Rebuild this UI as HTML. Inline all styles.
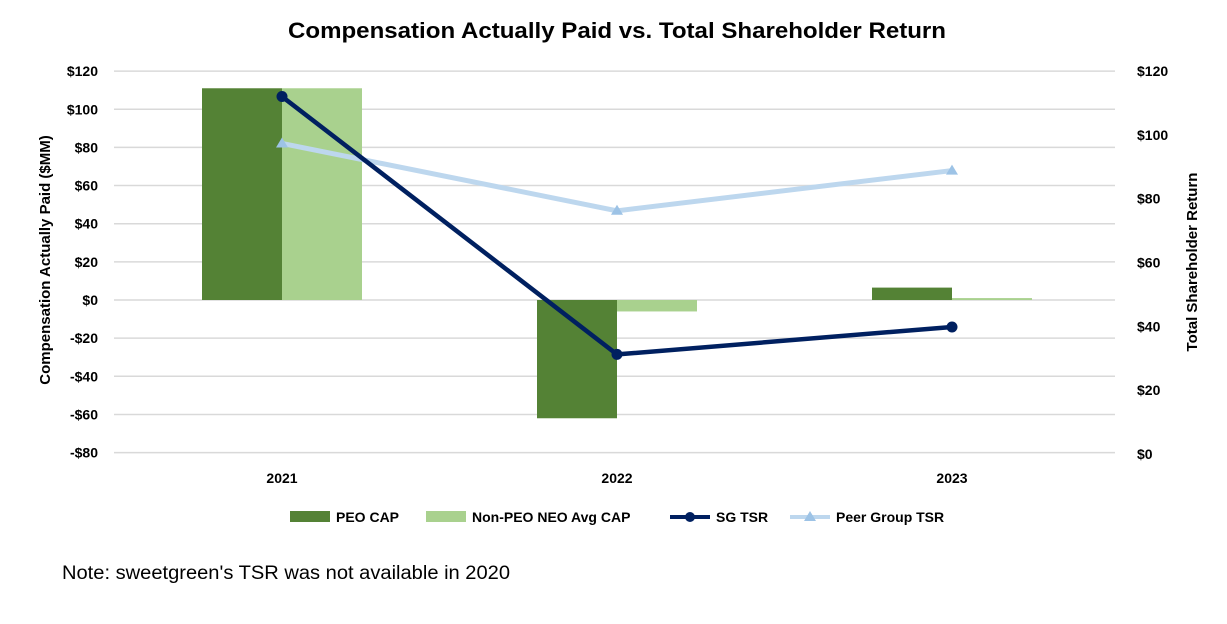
<!DOCTYPE html>
<html><head><meta charset="utf-8"><style>
body{margin:0;background:#fff;}
svg text{font-family:"Liberation Sans",Arial,sans-serif;}
</style></head><body>
<svg width="1227" height="619" xmlns="http://www.w3.org/2000/svg">
<text x="288" y="38" textLength="658" lengthAdjust="spacingAndGlyphs" font-size="22" font-weight="bold" fill="#000">Compensation Actually Paid vs. Total Shareholder Return</text>
<g id="grid"></g><g id="bars"></g><g id="lines"></g><g id="axes"></g>
<text transform="translate(50,260) rotate(-90)" text-anchor="middle" font-size="15" font-weight="bold">Compensation Actually Paid ($MM)</text>
<text transform="translate(1197,262) rotate(-90)" text-anchor="middle" font-size="15" font-weight="bold">Total Shareholder Return</text>
<g font-size="14" font-weight="bold">
<rect x="290" y="511" width="40" height="11" fill="#548235"/><text x="336" y="522">PEO CAP</text>
<rect x="426" y="511" width="40" height="11" fill="#a9d18e"/><text x="472" y="522">Non-PEO NEO Avg CAP</text>
<line x1="670" y1="517" x2="710" y2="517" stroke="#002060" stroke-width="4"/><circle cx="690" cy="517" r="5" fill="#002060"/><text x="716" y="522">SG TSR</text>
<line x1="790" y1="517" x2="830" y2="517" stroke="#bdd7ee" stroke-width="4"/><path d="M810,511 L816,521 L804,521Z" fill="#9dc3e6"/><text x="836" y="522">Peer Group TSR</text>
</g>
<text x="62" y="579" font-size="19" textLength="448" lengthAdjust="spacingAndGlyphs">Note: sweetgreen's TSR was not available in 2020</text>
</svg>
<script>
const categories=["2021","2022","2023"];
const peoCap=[111,-62,6.5];
const nonPeoCap=[111,-6,1];
const sgTsr=[112,31.2,39.8];
const peerTsr=[97.3,76.2,88.8];
const leftTicks=[120,100,80,60,40,20,0,-20,-40,-60,-80];
const rightTicks=[120,100,80,60,40,20,0];
const NS="http://www.w3.org/2000/svg";
const yL=v=>300-v*38.15/20;
const yR=v=>454-v*(454-71)/120;
const xC=i=>282+i*335;
function mk(t,a,p){const e=document.createElementNS(NS,t);for(const k in a)e.setAttribute(k,a[k]);document.getElementById(p).appendChild(e);return e;}
leftTicks.forEach(v=>{
 const g=mk('line',{x1:114,x2:1115,y1:yL(v),y2:yL(v),stroke:'#d9d9d9','stroke-width':1.5},'grid');
 
 
 const t=mk('text',{x:98,y:yL(v)+5,'text-anchor':'end','font-size':14,'font-weight':'bold'},'axes');
 t.textContent=(v<0?'-$':'$')+Math.abs(v);
 
 
});
rightTicks.forEach(v=>{
 const t=mk('text',{x:1137,y:yR(v)+5,'font-size':14,'font-weight':'bold'},'axes');
 t.textContent='$'+v;
 
 
});
categories.forEach((c,i)=>{
 const t=mk('text',{x:xC(i),y:483,'text-anchor':'middle','font-size':14,'font-weight':'bold'},'axes');
 t.textContent=c;
 
 
 [[peoCap,'#548235',-80],[nonPeoCap,'#a9d18e',0]].forEach(([arr,col,off])=>{
  const v=arr[i],y0=yL(0),y1=yL(v);
  const r=mk('rect',{x:xC(i)+off,y:Math.min(y0,y1),width:80,height:Math.abs(y1-y0),fill:col},'bars');
  
  
 });
});
const pp=mk('polyline',{points:peerTsr.map((v,i)=>xC(i)+','+yR(v)).join(' '),fill:'none',stroke:'#bdd7ee','stroke-width':5},'lines');


peerTsr.forEach((v,i)=>{const m=mk('path',{d:`M${xC(i)},${yR(v)-6} L${xC(i)+6},${yR(v)+4} L${xC(i)-6},${yR(v)+4}Z`,fill:'#9dc3e6'},'lines');
 
 });
const sp=mk('polyline',{points:sgTsr.map((v,i)=>xC(i)+','+yR(v)).join(' '),fill:'none',stroke:'#002060','stroke-width':4.5},'lines');


sgTsr.forEach((v,i)=>{const m=mk('circle',{cx:xC(i),cy:yR(v),r:5.5,fill:'#002060'},'lines');
 
 });
</script>
</body></html>
